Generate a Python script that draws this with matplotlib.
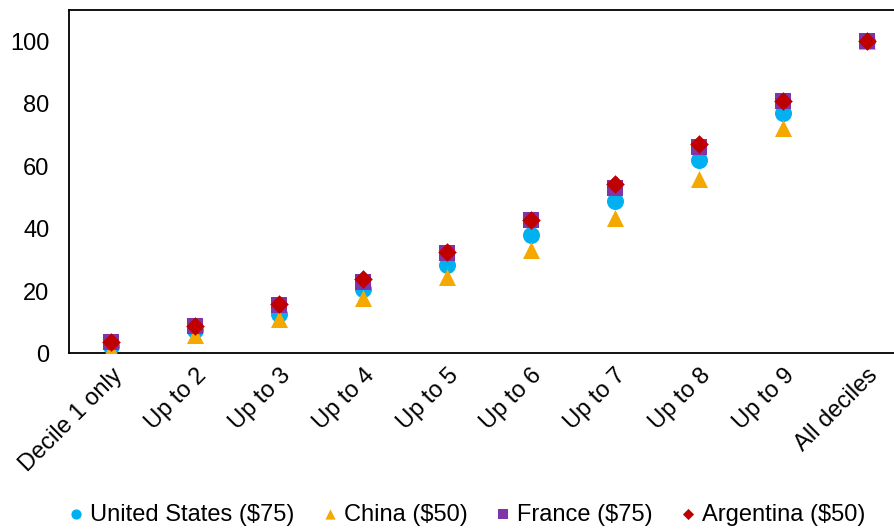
import matplotlib.pyplot as plt

plt.rcParams['font.family'] = ['Liberation Sans', 'DejaVu Sans']

# cumulative share by decile group
labels = ['Decile 1 only', 'Up to 2', 'Up to 3', 'Up to 4', 'Up to 5',
          'Up to 6', 'Up to 7', 'Up to 8', 'Up to 9', 'All deciles']
us = [2.5, 7.5, 12.5, 20.5, 28.4, 37.8, 48.7, 61.8, 77.1, 100]
china = [1.0, 6.0, 11.2, 17.8, 24.6, 33.2, 43.3, 55.9, 72.2, 100]
france = [3.8, 8.9, 15.5, 22.9, 32.3, 42.6, 53.1, 66.0, 80.7, 100]
argentina = [3.8, 8.9, 15.9, 23.9, 32.6, 42.8, 54.3, 67.1, 80.9, 100]

x = range(len(labels))

fig = plt.figure(figsize=(8.94, 5.31), dpi=100)
ax = fig.add_axes([0.0772, 0.3343, 0.9396, 0.647])

ax.scatter(x, us, marker='o', s=150, color='#00B0F0', label='United States ($75)', zorder=3, linewidths=0)
ax.scatter(x, china, marker='^', s=150, color='#F5A800', label='China ($50)', zorder=4, linewidths=0)
ax.scatter(x, france, marker='s', s=140, color='#7F35A8', label='France ($75)', zorder=5, linewidths=0)
ax.scatter(x, argentina, marker='D', s=90, color='#C00000', label='Argentina ($50)', zorder=6, linewidths=0)

ax.set_xlim(-0.5, len(labels) - 0.5)
ax.set_ylim(0, 110)
ax.set_yticks([0, 20, 40, 60, 80, 100])
ax.set_xticks(list(x))
ax.set_xticklabels(labels, rotation=45, ha='right', rotation_mode='anchor')
ax.tick_params(axis='y', length=0, pad=14, labelsize=17)
ax.tick_params(axis='x', length=0, pad=8, labelsize=17)
for s in ['left', 'bottom', 'top', 'right']:
    ax.spines[s].set_linewidth(1.3)

fig.legend(loc='lower center', bbox_to_anchor=(0.52, -0.03), ncol=4, frameon=False,
           fontsize=17, markerscale=0.6, handletextpad=0.1, columnspacing=1.0,
           handlelength=1.0)

fig.savefig('out.png', dpi=100)
